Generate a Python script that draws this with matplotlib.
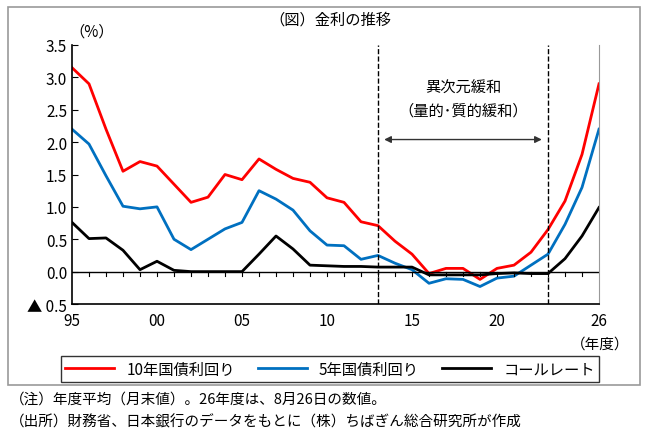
import matplotlib
matplotlib.use("Agg")
import matplotlib.pyplot as plt
import matplotlib.patches as patches

plt.rcParams["font.family"] = ["Noto Sans CJK JP", "DejaVu Sans"]

years = list(range(1995, 2027))
y10 = [3.15, 2.9, 2.2, 1.55, 1.7, 1.63, 1.35, 1.07, 1.15, 1.5, 1.42, 1.74, 1.58, 1.44, 1.38, 1.14,
       1.07, 0.77, 0.71, 0.47, 0.27, -0.03, 0.05, 0.05, -0.12, 0.05, 0.1, 0.3, 0.65, 1.09, 1.81, 2.9]
y5 = [2.2, 1.97, 1.48, 1.01, 0.97, 1.0, 0.5, 0.34, 0.5, 0.66, 0.76, 1.25, 1.12, 0.95, 0.63, 0.41,
      0.4, 0.19, 0.25, 0.13, 0.03, -0.18, -0.11, -0.12, -0.23, -0.1, -0.07, 0.1, 0.27, 0.73, 1.3, 2.2]
call = [0.76, 0.51, 0.52, 0.33, 0.03, 0.16, 0.02, 0.0, 0.0, 0.0, 0.0, 0.27, 0.55, 0.35, 0.1, 0.09,
        0.08, 0.08, 0.07, 0.07, 0.07, -0.05, -0.05, -0.05, -0.05, -0.03, -0.02, -0.03, -0.03, 0.2, 0.55, 0.99]
xtick_years = [1995, 2000, 2005, 2010, 2015, 2020, 2026]
xtick_labels = ["95", "00", "05", "10", "15", "20", "26"]
yticks = [-0.5, 0.0, 0.5, 1.0, 1.5, 2.0, 2.5, 3.0, 3.5]
ytick_labels = ["▲ 0.5", "0.0", "0.5", "1.0", "1.5", "2.0", "2.5", "3.0", "3.5"]

fig = plt.figure(figsize=(6.45, 4.35), dpi=100)
fig.patches.append(patches.Rectangle((8 / 645, 1 - 386 / 435), 632 / 645, 378 / 435,
                                     transform=fig.transFigure, fill=False, ec="#999999", lw=1.2))
ax = fig.add_axes([72 / 645, 1 - 305 / 435, 527 / 645, 259 / 435])

ax.plot(years, y10, color="#ff0000", lw=2, label="10年国債利回り")
ax.plot(years, y5, color="#0070c0", lw=2, label="5年国債利回り")
ax.plot(years, call, color="black", lw=2, label="コールレート")

ax.axhline(0, color="black", lw=1)
for yr in years[1:-1]:
    ax.plot([yr, yr], [0, -0.07], color="black", lw=0.8)
ax.axvline(2013, color="black", ls="--", lw=1)
ax.axvline(2023, color="black", ls="--", lw=1)
ax.annotate("", xy=(2013.2, 2.04), xytext=(2022.8, 2.04),
            arrowprops=dict(arrowstyle="<|-|>", color="#333333", lw=1))
ax.text(2018, 2.85, "異次元緩和", ha="center", va="center", fontsize=11)
ax.text(2018, 2.5, "（量的･質的緩和）", ha="center", va="center", fontsize=11)

ax.set_xlim(1995, 2026)
ax.set_ylim(-0.5, 3.5)
ax.set_xticks(xtick_years)
ax.set_xticklabels(xtick_labels, fontsize=11)
ax.set_yticks(yticks)
ax.set_yticklabels(ytick_labels, fontsize=11)
ax.tick_params(axis="x", length=0, pad=6)
ax.tick_params(axis="y", direction="in", length=4)
ax.spines["top"].set_visible(False)
ax.spines["right"].set_color("#999999")
ax.spines["left"].set_linewidth(1.2)
ax.spines["bottom"].set_linewidth(1.2)

fig.text(330 / 645, 1 - 20 / 435, "（図）金利の推移", ha="center", va="center", fontsize=11)
fig.text(92 / 645, 1 - 32 / 435, "（%）", ha="center", va="center", fontsize=11)
fig.text(600 / 645, 1 - 345 / 435, "（年度）", ha="center", va="center", fontsize=10.5)

fig.legend(loc="center", bbox_to_anchor=(330 / 645, 1 - 370 / 435), ncol=3, fontsize=11,
           frameon=True, fancybox=False, edgecolor="black", handlelength=3.2,
           columnspacing=1.5, borderpad=0.3)

fig.text(10 / 645, 1 - 400 / 435, "（注）年度平均（月末値）。26年度は、8月26日の数値。", va="center", fontsize=10.5)
fig.text(10 / 645, 1 - 422 / 435, "（出所）財務省、日本銀行のデータをもとに（株）ちばぎん総合研究所が作成",
         va="center", fontsize=10.5)

fig.savefig("out.png", dpi=100)
